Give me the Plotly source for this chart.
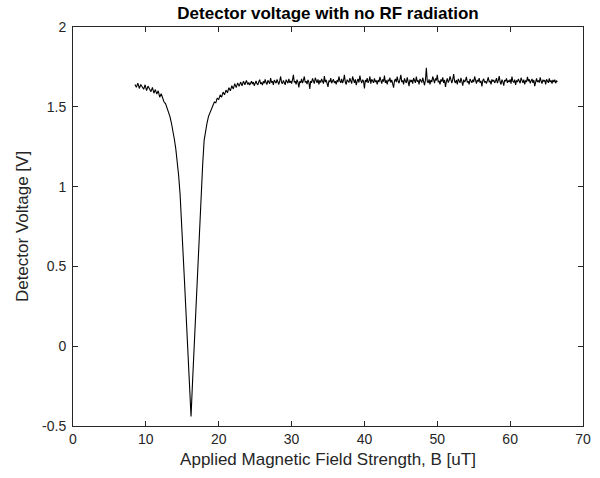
import plotly.graph_objects as go

# ---- data ----
dip_x = [8.5, 8.7, 8.9, 9.1, 9.3, 9.5, 9.7, 9.9, 10.1, 10.3, 10.5, 10.7, 10.9, 11.1, 11.3, 11.5,
         11.7, 11.9, 12.1, 12.3, 12.5, 12.7, 12.9, 13.1, 13.3, 13.5, 13.7, 13.9, 14.1, 14.3, 14.5,
         14.7, 14.9, 15.1, 15.3, 15.5, 15.7, 15.9, 16.05, 16.2, 16.4, 16.6, 16.8,
         17.0, 17.2, 17.4, 17.6, 17.8, 18.0, 18.2, 18.4, 18.6, 18.8, 19.0, 19.2, 19.4, 19.6, 19.8,
         20.0, 20.2, 20.4, 20.6, 20.8, 21.0, 21.2, 21.4, 21.6, 21.8, 22.0, 22.2, 22.4, 22.6, 22.8,
         23.0, 23.2, 23.4, 23.6, 23.8]
dip_y = [1.640, 1.622, 1.648, 1.615, 1.640, 1.625, 1.610, 1.638, 1.602, 1.630, 1.608, 1.595,
         1.622, 1.585, 1.608, 1.580, 1.600, 1.560, 1.582, 1.548, 1.530, 1.520, 1.495, 1.470,
         1.440, 1.400, 1.355, 1.300, 1.240, 1.170, 1.070, 0.950, 0.790, 0.600, 0.410, 0.220,
         0.030, -0.160, -0.330, -0.440, -0.230, -0.030, 0.180,
         0.390, 0.600, 0.820, 1.000, 1.140, 1.290, 1.360, 1.400, 1.440, 1.460, 1.490, 1.505,
         1.530, 1.525, 1.555, 1.545, 1.575, 1.560, 1.592, 1.575, 1.605, 1.588, 1.620, 1.600,
         1.632, 1.612, 1.645, 1.620, 1.650, 1.628, 1.655, 1.632, 1.660, 1.638, 1.665]

flat_x = [
    24.0, 24.125, 24.25, 24.375, 24.5, 24.625, 24.75, 24.875,
    25.0, 25.125, 25.25, 25.375, 25.5, 25.625, 25.75, 25.875,
    26.0, 26.125, 26.25, 26.375, 26.5, 26.625, 26.75, 26.875,
    27.0, 27.125, 27.25, 27.375, 27.5, 27.625, 27.75, 27.875,
    28.0, 28.125, 28.25, 28.375, 28.5, 28.625, 28.75, 28.875,
    29.0, 29.125, 29.25, 29.375, 29.5, 29.625, 29.75, 29.875,
    30.0, 30.125, 30.25, 30.375, 30.5, 30.625, 30.75, 30.875,
    31.0, 31.125, 31.25, 31.375, 31.5, 31.625, 31.75, 31.875,
    32.0, 32.125, 32.25, 32.375, 32.5, 32.625, 32.75, 32.875,
    33.0, 33.125, 33.25, 33.375, 33.5, 33.625, 33.75, 33.875,
    34.0, 34.125, 34.25, 34.375, 34.5, 34.625, 34.75, 34.875,
    35.0, 35.125, 35.25, 35.375, 35.5, 35.625, 35.75, 35.875,
    36.0, 36.125, 36.25, 36.375, 36.5, 36.625, 36.75, 36.875,
    37.0, 37.125, 37.25, 37.375, 37.5, 37.625, 37.75, 37.875,
    38.0, 38.125, 38.25, 38.375, 38.5, 38.625, 38.75, 38.875,
    39.0, 39.125, 39.25, 39.375, 39.5, 39.625, 39.75, 39.875,
    40.0, 40.125, 40.25, 40.375, 40.5, 40.625, 40.75, 40.875,
    41.0, 41.125, 41.25, 41.375, 41.5, 41.625, 41.75, 41.875,
    42.0, 42.125, 42.25, 42.375, 42.5, 42.625, 42.75, 42.875,
    43.0, 43.125, 43.25, 43.375, 43.5, 43.625, 43.75, 43.875,
    44.0, 44.125, 44.25, 44.375, 44.5, 44.625, 44.75, 44.875,
    45.0, 45.125, 45.25, 45.375, 45.5, 45.625, 45.75, 45.875,
    46.0, 46.125, 46.25, 46.375, 46.5, 46.625, 46.75, 46.875,
    47.0, 47.125, 47.25, 47.375, 47.5, 47.625, 47.75, 47.875,
    48.0, 48.125, 48.25, 48.375, 48.5, 48.625, 48.75, 48.875,
    49.0, 49.125, 49.25, 49.375, 49.5, 49.625, 49.75, 49.875,
    50.0, 50.125, 50.25, 50.375, 50.5, 50.625, 50.75, 50.875,
    51.0, 51.125, 51.25, 51.375, 51.5, 51.625, 51.75, 51.875,
    52.0, 52.125, 52.25, 52.375, 52.5, 52.625, 52.75, 52.875,
    53.0, 53.125, 53.25, 53.375, 53.5, 53.625, 53.75, 53.875,
    54.0, 54.125, 54.25, 54.375, 54.5, 54.625, 54.75, 54.875,
    55.0, 55.125, 55.25, 55.375, 55.5, 55.625, 55.75, 55.875,
    56.0, 56.125, 56.25, 56.375, 56.5, 56.625, 56.75, 56.875,
    57.0, 57.125, 57.25, 57.375, 57.5, 57.625, 57.75, 57.875,
    58.0, 58.125, 58.25, 58.375, 58.5, 58.625, 58.75, 58.875,
    59.0, 59.125, 59.25, 59.375, 59.5, 59.625, 59.75, 59.875,
    60.0, 60.125, 60.25, 60.375, 60.5, 60.625, 60.75, 60.875,
    61.0, 61.125, 61.25, 61.375, 61.5, 61.625, 61.75, 61.875,
    62.0, 62.125, 62.25, 62.375, 62.5, 62.625, 62.75, 62.875,
    63.0, 63.125, 63.25, 63.375, 63.5, 63.625, 63.75, 63.875,
    64.0, 64.125, 64.25, 64.375, 64.5, 64.625, 64.75, 64.875,
    65.0, 65.125, 65.25, 65.375, 65.5, 65.625, 65.75, 65.875,
    66.0, 66.125, 66.25, 66.375, 66.5]
flat_y = [
    1.640, 1.652, 1.636, 1.648, 1.660, 1.642, 1.655, 1.632,
    1.650, 1.662, 1.645, 1.638, 1.658, 1.670, 1.644, 1.652,
    1.636, 1.660, 1.648, 1.672, 1.650, 1.640, 1.666, 1.655,
    1.645, 1.680, 1.652, 1.660, 1.638, 1.668, 1.655, 1.648,
    1.672, 1.650, 1.640, 1.662, 1.690, 1.652, 1.645, 1.665,
    1.655, 1.638, 1.670, 1.658, 1.648, 1.675, 1.650, 1.662,
    1.645, 1.668, 1.700, 1.652, 1.660, 1.640, 1.670, 1.655,
    1.622, 1.660, 1.650, 1.675, 1.648, 1.665, 1.690, 1.652,
    1.660, 1.642, 1.668, 1.655, 1.612, 1.662, 1.650, 1.678,
    1.655, 1.645, 1.682, 1.660, 1.650, 1.672, 1.640, 1.665,
    1.652, 1.675, 1.660, 1.645, 1.692, 1.655, 1.668, 1.650,
    1.625, 1.665, 1.655, 1.680, 1.648, 1.662, 1.672, 1.650,
    1.660, 1.640, 1.668, 1.655, 1.690, 1.662, 1.650, 1.675,
    1.648, 1.665, 1.700, 1.655, 1.640, 1.670, 1.660, 1.652,
    1.680, 1.658, 1.645, 1.690, 1.662, 1.650, 1.672, 1.635,
    1.660, 1.675, 1.652, 1.695, 1.665, 1.648, 1.670, 1.660,
    1.615, 1.668, 1.655, 1.680, 1.650, 1.662, 1.690, 1.645,
    1.672, 1.660, 1.650, 1.678, 1.655, 1.665, 1.640, 1.668,
    1.655, 1.688, 1.662, 1.645, 1.672, 1.658, 1.695, 1.650,
    1.665, 1.640, 1.670, 1.660, 1.682, 1.652, 1.668, 1.648,
    1.620, 1.662, 1.675, 1.655, 1.690, 1.660, 1.648, 1.672,
    1.700, 1.655, 1.665, 1.640, 1.678, 1.660, 1.650, 1.685,
    1.662, 1.630, 1.670, 1.655, 1.668, 1.645, 1.680, 1.660,
    1.650, 1.690, 1.658, 1.665, 1.640, 1.675, 1.660, 1.652,
    1.682, 1.655, 1.635, 1.668, 1.745, 1.660, 1.650, 1.672,
    1.640, 1.668, 1.655, 1.690, 1.660, 1.648, 1.678, 1.665,
    1.700, 1.655, 1.662, 1.640, 1.672, 1.658, 1.685, 1.650,
    1.668, 1.625, 1.660, 1.678, 1.652, 1.665, 1.690, 1.655,
    1.648, 1.672, 1.705, 1.660, 1.650, 1.668, 1.640, 1.675,
    1.660, 1.650, 1.682, 1.662, 1.632, 1.670, 1.655, 1.665,
    1.688, 1.652, 1.660, 1.640, 1.675, 1.662, 1.650, 1.670,
    1.655, 1.690, 1.660, 1.645, 1.668, 1.658, 1.680, 1.650,
    1.662, 1.628, 1.665, 1.675, 1.652, 1.660, 1.645, 1.670,
    1.685, 1.655, 1.662, 1.640, 1.672, 1.658, 1.668, 1.650,
    1.660, 1.680, 1.648, 1.665, 1.692, 1.655, 1.640, 1.670,
    1.658, 1.632, 1.668, 1.660, 1.678, 1.650, 1.665, 1.655,
    1.672, 1.645, 1.690, 1.660, 1.652, 1.670, 1.638, 1.665,
    1.655, 1.675, 1.660, 1.648, 1.682, 1.662, 1.650, 1.670,
    1.640, 1.665, 1.655, 1.688, 1.660, 1.672, 1.648, 1.662,
    1.675, 1.650, 1.668, 1.630, 1.660, 1.678, 1.655, 1.665,
    1.652, 1.685, 1.660, 1.645, 1.670, 1.658, 1.668, 1.640,
    1.672, 1.660, 1.650, 1.678, 1.655, 1.665, 1.645, 1.668,
    1.655, 1.670, 1.648, 1.662, 1.658]

x_ticks = [0, 10, 20, 30, 40, 50, 60, 70]
x_labels = ["0", "10", "20", "30", "40", "50", "60", "70"]
y_ticks = [-0.5, 0, 0.5, 1, 1.5, 2]
y_labels = ["-0.5", "0", "0.5", "1", "1.5", "2"]

title_text = "Detector voltage with no RF radiation"
x_title = "Applied Magnetic Field Strength, B [uT]"
y_title = "Detector Voltage [V]"

FONT = "Liberation Sans, Arial, Helvetica"
AX = "#262626"

fig = go.Figure()
fig.add_trace(go.Scatter(x=dip_x + flat_x, y=dip_y + flat_y, mode="lines",
                         line=dict(color="black", width=1.1), showlegend=False))

axis_common = dict(showgrid=False, zeroline=False, showline=True, mirror="ticks",
                   linecolor=AX, linewidth=1, ticks="inside", ticklen=5,
                   tickcolor=AX, automargin=False,
                   tickfont=dict(family=FONT, size=14, color=AX))

fig.update_layout(
    width=600, height=478,
    margin=dict(l=73, r=17, t=27, b=52),
    paper_bgcolor="white", plot_bgcolor="white",
    title=dict(text="<b>" + title_text + "</b>", x=0.5, xanchor="center", xref="paper",
               y=1 - 13 / 478, yanchor="middle", yref="container",
               font=dict(family=FONT, size=17, color="black")),
    xaxis=dict(range=[0, 70], tickvals=x_ticks, ticktext=x_labels,
               title=dict(text=x_title, standoff=7,
                          font=dict(family=FONT, size=17, color=AX)),
               **axis_common),
    yaxis=dict(range=[-0.5, 2], tickvals=y_ticks, ticktext=y_labels,
               ticklabelstandoff=3,
               title=dict(text=y_title, standoff=9,
                          font=dict(family=FONT, size=17, color=AX)),
               **axis_common),
)

fig.write_html("out.html", config={"displayModeBar": False},
               post_script="document.body.style.margin='0';document.body.style.padding='0';")
